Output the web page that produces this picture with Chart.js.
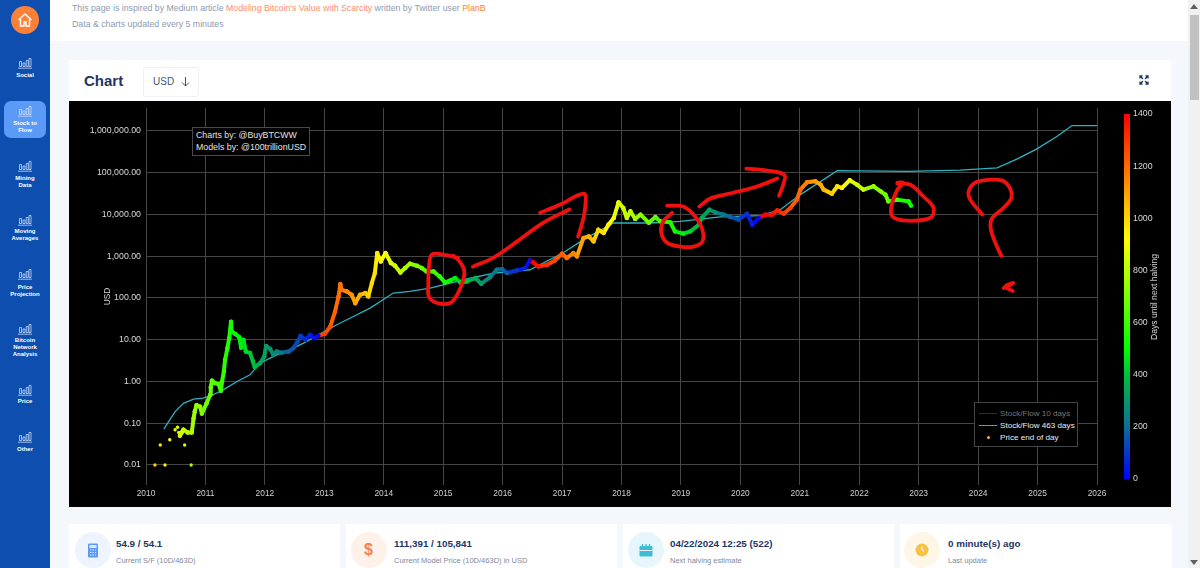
<!DOCTYPE html>
<html><head><meta charset="utf-8">
<style>
html,body{margin:0;padding:0;width:1200px;height:568px;overflow:hidden;background:#f4f8fd;font-family:"Liberation Sans",Arial,sans-serif}
.abs{position:absolute}
#side{left:0;top:0;width:50px;height:568px;background:#0e4eae}
#home{left:11px;top:6px;width:28px;height:28px;border-radius:50%;background:#fb8139}
#active{left:4px;top:101px;width:42px;height:37px;border-radius:7px;background:#5b9bf7}
.nav{left:0;width:50px;text-align:center;color:#fff;font-weight:bold;font-size:6px;line-height:7px}
#head{left:50px;top:0;width:1138px;height:41px;background:#fff}
.htext{left:72px;font-size:8.77px;color:#8d9ab0;white-space:nowrap}
.htext b{font-weight:normal;color:#fa8f6a}
#card{left:69px;top:60px;width:1102px;height:41px;background:#fff}
#title{left:84px;top:72px;font-size:15px;font-weight:bold;color:#1f3567}
#usd{left:143px;top:67px;height:28px;border:1px solid #eef1f6;border-radius:2px;background:#fff;font-size:10px;color:#44546f;line-height:28px;padding-left:9px;box-sizing:content-box;width:45px}
#plotbox{left:69px;top:101px;width:1102px;height:406px;background:#000}
#main{left:69px;top:101px}
#bar{left:1110px;top:105px}
#bartitle{left:1154px;top:297px;color:#d8d8d8;font-size:8.6px;white-space:nowrap;transform:translate(-50%,-50%) rotate(-90deg)}
#note{left:192px;top:127px;width:113px;border:1px solid #4a4a4a;color:#e4e4e4;font-size:8.8px;line-height:11.5px;padding-left:3px;padding-top:2px;box-sizing:content-box;height:25px;background:#000;white-space:nowrap}
#legend{left:974px;top:402px;width:104px;height:45px;border:1px solid #444;box-sizing:border-box;background:#000}
.lrow{position:absolute;left:25px;font-size:8.1px;white-space:nowrap;line-height:10px}
.lline{position:absolute;left:4px;width:18px;height:1.4px}
.stat{top:524px;width:271px;height:44px;background:#fff}
.circ{top:532px;width:36px;height:36px;border-radius:50%}
.big{top:538px;font-size:9.8px;font-weight:bold;color:#1f3567;white-space:nowrap}
.sub{top:556px;font-size:7.5px;color:#7f8899;white-space:nowrap}
#sb{left:1188px;top:0;width:12px;height:568px;background:#f1f1f1}
#thumb{left:1190px;top:15px;width:9px;height:85px;background:#c1c1c1}
</style></head><body>
<div class="abs" id="side"></div>
<div class="abs" id="home"><svg width="28" height="28" viewBox="0 0 28 28"><path d="M7.5 14 14 8l6.5 6M9.5 13v7h3.5v-4h2v4h3.5v-7" fill="none" stroke="#fff" stroke-width="1.4"/></svg></div>
<div class="abs" id="active"></div>
<div id="navs"></div>
<div class="abs" id="head"></div>
<div class="abs htext" style="top:3px">This page is inspired by Medium article <b>Modeling Bitcoin's Value with Scarcity</b> written by Twitter user <b style="color:#fb8139">PlanB</b></div>
<div class="abs htext" style="top:19px">Data &amp; charts updated every 5 minutes</div>
<div class="abs" id="card"></div>
<div class="abs" id="title">Chart</div>
<div class="abs" id="usd">USD</div>
<svg class="abs" style="left:180px;top:76px" width="11" height="11" viewBox="0 0 11 11"><path d="M5.5 1v9M2 6.5l3.5 3.5L9 6.5" fill="none" stroke="#44546f" stroke-width="1"/></svg>
<svg class="abs" style="left:1139px;top:75px" width="10" height="10" viewBox="0 0 10 10"><path d="M1 3.5V1h2.5M6.5 1H9v2.5M9 6.5V9H6.5M3.5 9H1V6.5M1 1l3 3M9 1 6 4M9 9 6 6M1 9l3-3" fill="none" stroke="#1f3567" stroke-width="1.3"/></svg>
<div class="abs" id="plotbox"></div>
<canvas class="abs" id="main" width="1102" height="406" style="width:1102px;height:406px"></canvas>
<canvas class="abs" id="bar" width="60" height="385" style="width:60px;height:385px"></canvas>
<div class="abs" id="bartitle">Days until next halving</div>
<div class="abs" id="note">Charts by: @BuyBTCWW<br>Models by: @100trillionUSD</div>
<div class="abs" id="legend">
 <div class="lline" style="top:10px;background:#2a2a5a"></div><div class="lrow" style="top:6px;color:#777">Stock/Flow 10 days</div>
 <div class="lline" style="top:22px;background:#2bb3c2"></div><div class="lrow" style="top:18px;color:#eee">Stock/Flow 463 days</div>
 <div style="position:absolute;left:12px;top:33px;width:3px;height:3px;border-radius:50%;background:#f5b342"></div><div class="lrow" style="top:30px;color:#eee">Price end of day</div>
</div>
<div class="abs stat" style="left:69px"></div><div class="abs stat" style="left:346px"></div><div class="abs stat" style="left:623px"></div><div class="abs stat" style="left:900px;width:272px"></div>
<div class="abs circ" style="left:75px;background:#eef4fd"></div><div class="abs circ" style="left:351px;background:#fef1ea"></div><div class="abs circ" style="left:628px;background:#e7f6fa"></div><div class="abs circ" style="left:904px;background:#fef7e7"></div>
<svg class="abs" style="left:87px;top:543px" width="12" height="15" viewBox="0 0 12 15"><rect x="1" y="0.5" width="10" height="14" rx="1" fill="#5b9bf7"/><rect x="2.5" y="2" width="7" height="3" fill="#dbe9fd"/><path d="M3 7h6M3 9.5h6M3 12h6" stroke="#dbe9fd" stroke-dasharray="1.5 1" stroke-width="1"/></svg>
<div class="abs" style="left:364px;top:541px;font-size:16px;font-weight:bold;color:#ee8650">$</div>
<svg class="abs" style="left:639px;top:543px" width="14" height="14" viewBox="0 0 14 14"><rect x="0.5" y="3" width="13" height="10.5" rx="1" fill="#41bcd8"/><path d="M0.5 7.5h13" stroke="#e7f6fa"/><path d="M3.5 1v3M7 1v3M10.5 1v3" stroke="#41bcd8" stroke-width="1.3"/></svg>
<svg class="abs" style="left:915px;top:543px" width="14" height="14" viewBox="0 0 14 14"><circle cx="7" cy="7" r="6.5" fill="#f7c244"/><path d="M7 3.5V7l2 1.5" fill="none" stroke="#fff" stroke-width="1"/></svg>
<div class="abs big" style="left:116px">54.9 / 54.1</div><div class="abs sub" style="left:116px">Current S/F (10D/463D)</div>
<div class="abs big" style="left:394px">111,391 / 105,841</div><div class="abs sub" style="left:394px">Current Model Price (10D/463D) in USD</div>
<div class="abs big" style="left:670px">04/22/2024 12:25 (522)</div><div class="abs sub" style="left:670px">Next halving estimate</div>
<div class="abs big" style="left:948px">0 minute(s) ago</div><div class="abs sub" style="left:948px">Last update</div>
<div class="abs" id="sb"></div><div class="abs" id="thumb"></div>
<svg class="abs" style="left:1190px;top:4px" width="8" height="5"><path d="M0 5 4 0l4 5z" fill="#606060"/></svg>
<svg class="abs" style="left:1190px;top:560px" width="8" height="5"><path d="M0 0 4 5l4-5z" fill="#606060"/></svg>

<script src="https://cdn.jsdelivr.net/npm/chart.js@4"></script>
<script>
const navItems = [["Social"],["Stock to","Flow"],["Mining","Data"],["Moving","Averages"],["Price","Projection"],["Bitcoin","Network","Analysis"],["Price"],["Other"]];
const navIconTops = [57,105,160,214,268,323,384,431];
const navLabelTops = [72,120,175,228,284,337,398,446];

const earlyYears  = [2010.15,2010.32,2010.24,2010.40,2010.65,2010.76,2010.49,2010.53,2010.55];
const earlyPrices = [0.01,0.01,0.03,0.04,0.03,0.01,0.07,0.08,0.06];

const priceYears = [2010.57,2010.60,2010.63,2010.70,2010.77,2010.80,2010.82,2010.85,2010.91,2010.94,2011.02,2011.08,2011.09,2011.11,2011.16,2011.22,2011.26,2011.28,2011.31,2011.33,2011.37,2011.40,2011.43,2011.44,2011.50,2011.57,2011.60,2011.64,2011.68,2011.75,2011.80,2011.83,2011.92,2011.99,2012.02,2012.09,2012.14,2012.20,2012.28,2012.40,2012.48,2012.55,2012.60,2012.68,2012.76,2012.83,2012.90,2013.01,2013.10,2013.18,2013.24,2013.27,2013.29,2013.38,2013.46,2013.52,2013.60,2013.69,2013.74,2013.80,2013.85,2013.89,2013.95,2014.03,2014.12,2014.19,2014.28,2014.36,2014.44,2014.56,2014.64,2014.72,2014.84,2014.94,2015.03,2015.12,2015.20,2015.29,2015.40,2015.54,2015.64,2015.79,2015.90,2015.99,2016.07,2016.24,2016.38,2016.46,2016.52,2016.60,2016.75,2016.88,2017.00,2017.08,2017.19,2017.25,2017.36,2017.45,2017.53,2017.61,2017.70,2017.78,2017.87,2017.95,2018.03,2018.09,2018.15,2018.23,2018.32,2018.46,2018.57,2018.65,2018.82,2018.90,2019.04,2019.16,2019.30,2019.35,2019.48,2019.58,2019.72,2019.83,2019.97,2020.11,2020.20,2020.31,2020.42,2020.53,2020.62,2020.73,2020.84,2020.95,2021.01,2021.12,2021.26,2021.35,2021.40,2021.54,2021.63,2021.71,2021.84,2021.96,2022.07,2022.24,2022.36,2022.44,2022.49,2022.64,2022.83,2022.87];
const priceValues = [0.05,0.06,0.07,0.06,0.06,0.13,0.19,0.27,0.25,0.17,0.30,0.48,0.73,1.05,0.91,0.87,0.60,1.0,1.73,3.3,6.3,10.9,27,15.7,13.8,11.5,6.4,10,5.2,4.85,3.0,2.2,2.75,3.95,7.1,6.0,4.35,5.2,4.9,5.2,6.3,9.05,12.4,10,13.1,10.9,12.4,13.8,20.7,47,109,215,157,143,119,75,119,131,109,228,395,1190,750,1190,687,592,408,521,661,592,521,432,432,328,235,263,300,235,249,300,219,317,474,493,395,456,521,793,710,569,625,793,1148,905,1190,989,2730,2985,2265,4315,3600,5690,8240,19500,14300,8240,11900,7800,9900,6350,8710,6840,6470,3935,3470,3935,5690,8240,13000,11200,9900,8710,7500,10400,5690,8240,9900,9900,12500,10400,14300,22600,39400,58900,62200,51900,39400,31500,47200,43200,66000,51900,39400,47200,35800,29900,20600,22600,20600,16300];

const flowYears = [2010.30,2010.38,2010.49,2010.63,2010.80,2010.96,2011.13,2011.30,2011.53,2011.75,2011.89,2012.03,2012.20,2012.42,2012.65,2012.90,2013.21,2013.43,2013.77,2014.16,2014.44,2014.78,2015.34,2015.85,2016.46,2017.02,2017.36,2017.87,2018.48,2018.99,2019.66,2020.34,2020.67,2021.01,2021.63,2022.80,2023.70,2024.32,2024.66,2024.99,2025.33,2025.58,2026.00];
const flowValues = [0.072,0.109,0.19,0.30,0.377,0.40,0.48,0.63,1.0,1.44,2.5,3.3,4.35,5.7,8.3,13.1,22.8,32.6,57,131,143,173,273,395,474,1210,2490,6250,6250,6820,8710,9350,13000,29900,112000,108000,115000,130000,214000,372000,746000,1346000,1346000];

const yTicks = [0.01,0.1,1,10,100,1000,10000,100000,1000000];
const yearTicksFrom = 2010, yearTicksTo = 2026;
const yLogMin = -2.48, yLogMax = 6.55;
const barTicksMax = 1400;
const halvings = [2012.91,2016.52,2020.36,2024.31];
const dayColors = [[0,[0,0,255]],[200,[13,110,150]],[400,[0,190,64]],[500,[0,255,0]],[920,[255,255,0]],[1160,[255,128,0]],[1400,[255,0,0]]];

// hand-drawn red marks as [year, log10(price)]
const markCircle2015 = [[2015.25,2.96],[2015.00,3.04],[2014.81,3.04],[2014.76,2.75],[2014.75,2.36],[2014.76,2.03],[2014.90,1.88],[2015.12,1.88],[2015.25,2.12],[2015.34,2.44],[2015.35,2.68],[2015.25,2.92],[2015.17,3.01]];
const markArrow1Shaft = [[2015.50,2.75],[2015.84,2.96],[2016.24,3.35],[2016.68,3.80],[2017.12,4.12]];
const markArrow1Head = [[2016.63,4.04],[2016.97,4.24],[2017.37,4.50],[2017.39,4.19],[2017.34,3.80],[2017.27,3.47]];
const markCircle2019 = [[2018.77,4.21],[2019.04,4.19],[2019.24,3.95],[2019.36,3.64],[2019.36,3.35],[2019.21,3.23],[2018.99,3.23],[2018.77,3.32],[2018.67,3.56],[2018.70,3.83],[2018.85,4.04]];
const markArrow2Shaft = [[2019.31,4.19],[2019.49,4.38],[2019.88,4.52],[2020.28,4.67],[2020.62,4.86]];
const markArrow2Head = [[2020.10,5.10],[2020.45,5.05],[2020.74,4.95],[2020.72,4.71],[2020.65,4.45]];
const markCircle2022 = [[2022.64,4.74],[2022.86,4.71],[2023.08,4.43],[2023.25,4.16],[2023.20,3.92],[2022.81,3.85],[2022.56,3.95],[2022.54,4.19],[2022.64,4.59],[2022.74,4.76],[2022.64,4.76]];
const markQuestion = [[2024.07,4.00],[2023.87,4.35],[2023.84,4.55],[2023.95,4.76],[2024.16,4.83],[2024.41,4.81],[2024.53,4.64],[2024.56,4.40],[2024.43,4.16],[2024.24,3.92],[2024.21,3.68],[2024.29,3.32],[2024.39,3.01]];
const markQuestionDot = [[2024.43,2.24],[2024.51,2.29],[2024.59,2.36],[2024.46,2.27],[2024.58,2.17]];
const allMarks = [markCircle2015,markArrow1Shaft,markArrow1Head,markCircle2019,markArrow2Shaft,markArrow2Head,markCircle2022,markQuestion,markQuestionDot];

// sidebar
const navs = document.getElementById('navs');
navItems.forEach((lines,i)=>{
  navs.insertAdjacentHTML('beforeend',
   `<svg class="abs" style="left:18px;top:${navIconTops[i]}px" width="14" height="12" viewBox="0 0 14 12"><path d="M1.5 9.5V4.5h2v5zM5 9.5V6h2v3.5zM8.2 9.5V3.5h2v6zM11 9.5V1.5h2v8z" fill="none" stroke="#c7dafa" stroke-width=".8"/><path d="M0 11.2h14" stroke="#c7dafa" stroke-width=".8"/></svg>
    <div class="abs nav" style="top:${navLabelTops[i]}px">${lines.join('<br>')}</div>`);
});

function colorForDays(d){
  for(let i=1;i<dayColors.length;i++){
    if(d<=dayColors[i][0]){
      const [a,ca]=dayColors[i-1],[b,cb]=dayColors[i],t=(d-a)/(b-a);
      return `rgb(${ca.map((v,k)=>Math.round(v+(cb[k]-v)*t)).join(',')})`;
    }
  }
  return 'rgb(255,0,0)';
}
function colorForYear(y){
  const next = halvings.find(h=>h>y) ?? halvings[halvings.length-1];
  return colorForDays(Math.max(0,(next-y)*365.25));
}
const pts = (xs,ys)=>xs.map((x,i)=>({x,y:ys[i]}));
const font = {family:'"Liberation Sans",Arial,sans-serif',size:8.8};
const markSets = allMarks.map(m=>({
  type:'scatter',showLine:true,label:'annotation',data:m.map(([x,l])=>({x,y:10**l})),
  borderColor:'#f0110e',borderWidth:3.8,pointRadius:0,borderCapStyle:'round',borderJoinStyle:'round',tension:0.35,order:0
}));

new Chart(document.getElementById('main'),{
  type:'scatter',
  data:{datasets:[
    {label:'Stock/Flow 463 days',showLine:true,data:pts(flowYears,flowValues),borderColor:'#2bb3c2',borderWidth:1.3,pointRadius:0,order:3},
    {label:'Price end of day',showLine:true,data:pts(priceYears,priceValues),borderWidth:4,borderColor:'#ff0',borderCapStyle:'round',borderJoinStyle:'round',
      segment:{borderColor:c=>colorForYear(c.p1.parsed.x)},
      pointRadius:2.2,pointBorderWidth:0,pointBackgroundColor:c=>colorForYear(c.parsed.x),order:2},
    {label:'Price end of day (first year)',showLine:false,data:pts(earlyYears,earlyPrices),
      pointRadius:1.7,pointBorderWidth:0,pointBackgroundColor:c=>colorForYear(c.parsed.x),order:2},
    ...markSets
  ]},
  options:{
    responsive:false,animation:false,
    layout:{padding:{top:7,right:74,left:0,bottom:0}},
    plugins:{legend:{display:false},tooltip:{enabled:false}},
    scales:{
      x:{type:'linear',min:yearTicksFrom,max:yearTicksTo,
        afterFit(s){s.height=22;s.paddingLeft=0;s.paddingRight=0},
        border:{display:false},
        grid:{color:'#454545',lineWidth:1,drawTicks:false},
        ticks:{stepSize:1,color:'#cfcfcf',font:{...font,size:8.4},padding:4,maxRotation:0,callback:v=>String(v)}},
      y:{type:'logarithmic',min:10**yLogMin,max:10**yLogMax,
        afterBuildTicks(s){s.ticks=yTicks.map(value=>({value}))},
        afterFit(s){s.width=77;s.paddingTop=0;s.paddingBottom=0},
        border:{display:false},
        grid:{color:'#454545',lineWidth:1,drawTicks:false},
        title:{display:true,text:'USD',color:'#d8d8d8',font:{...font,size:8.4},padding:{top:34,bottom:0}},
        ticks:{color:'#d8d8d8',font,padding:5,autoSkip:false,
          callback:v=>Number(v).toLocaleString('en-US',{minimumFractionDigits:2,maximumFractionDigits:2})}}
    }
  }
});

new Chart(document.getElementById('bar'),{
  type:'bar',
  data:{labels:['Days until next halving'],datasets:[{data:[[0,barTicksMax]],barPercentage:1,categoryPercentage:1,
    backgroundColor(c){
      const a=c.chart.chartArea; if(!a) return '#0f0';
      const g=c.chart.ctx.createLinearGradient(0,a.bottom,0,a.top);
      dayColors.forEach(([d,rgb])=>g.addColorStop(d/barTicksMax,`rgb(${rgb.join(',')})`));
      return g;
    }}]},
  options:{
    responsive:false,animation:false,
    layout:{padding:{left:14,top:9,bottom:11,right:0}},
    plugins:{legend:{display:false},tooltip:{enabled:false}},
    scales:{
      x:{display:false},
      y:{position:'right',min:0,max:barTicksMax,
        afterFit(s){s.width=40;s.paddingTop=0;s.paddingBottom=0},
        border:{display:false},grid:{display:false,drawTicks:false},
        ticks:{stepSize:200,color:'#d8d8d8',font,padding:3,callback:v=>String(v)}}
    }
  }
});
</script>
</body></html>
